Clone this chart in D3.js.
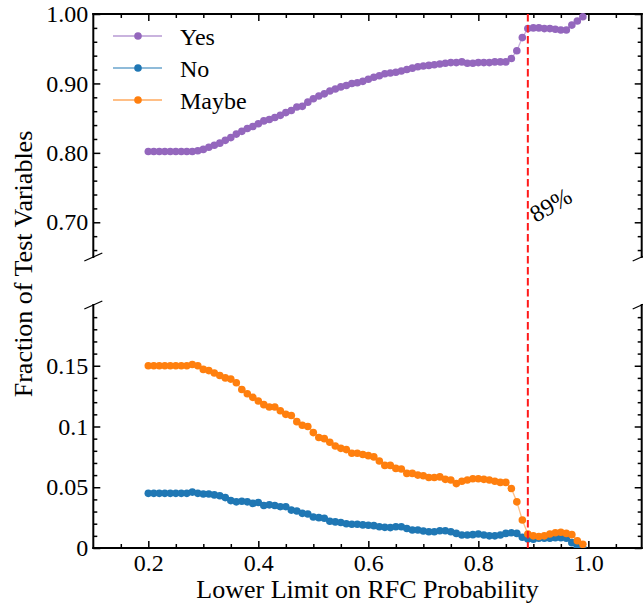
<!DOCTYPE html>
<html>
<head>
<meta charset="utf-8">
<script src="https://cdn.jsdelivr.net/npm/d3@7"></script>
<style>
  body { margin: 0; background: #fff; }
</style>
</head>
<body>
<div id="chart"></div>
<script>
// lower limit on RFC probability (x)
var thresholds = [0.20,0.21,0.22,0.23,0.24,0.25,0.26,0.27,0.28,0.29,
                  0.30,0.31,0.32,0.33,0.34,0.35,0.36,0.37,0.38,0.39,
                  0.40,0.41,0.42,0.43,0.44,0.45,0.46,0.47,0.48,0.49,
                  0.50,0.51,0.52,0.53,0.54,0.55,0.56,0.57,0.58,0.59,
                  0.60,0.61,0.62,0.63,0.64,0.65,0.66,0.67,0.68,0.69,
                  0.70,0.71,0.72,0.73,0.74,0.75,0.76,0.77,0.78,0.79,
                  0.80,0.81,0.82,0.83,0.84,0.85,0.86,0.87,0.88,0.89,
                  0.90,0.91,0.92,0.93,0.94,0.95,0.96,0.97,0.98,0.99];
var yesFraction = [0.802,0.802,0.802,0.802,0.802,0.802,0.802,0.802,0.802,0.803,
                   0.805,0.808,0.811,0.814,0.818,0.822,0.827,0.831,0.835,0.838,
                   0.842,0.846,0.848,0.851,0.854,0.858,0.861,0.866,0.867,0.873,
                   0.878,0.882,0.885,0.889,0.892,0.895,0.897,0.900,0.901,0.903,
                   0.906,0.909,0.911,0.914,0.915,0.916,0.918,0.920,0.922,0.924,
                   0.925,0.926,0.927,0.928,0.929,0.930,0.930,0.931,0.929,0.929,
                   0.930,0.930,0.930,0.931,0.931,0.931,0.936,0.947,0.966,0.979,
                   0.980,0.980,0.979,0.979,0.978,0.977,0.977,0.984,0.990,0.996];
var noFraction = [0.045,0.045,0.045,0.045,0.045,0.045,0.045,0.045,0.046,0.045,
                  0.0445,0.0445,0.0437,0.043,0.0415,0.039,0.038,0.0385,0.038,0.0367,
                  0.0375,0.035,0.0355,0.035,0.034,0.034,0.0312,0.0305,0.0285,0.028,
                  0.0255,0.025,0.0245,0.022,0.0215,0.021,0.020,0.0195,0.0195,0.019,
                  0.0187,0.0184,0.0175,0.017,0.0168,0.0175,0.0175,0.016,0.0148,0.0148,
                  0.014,0.0134,0.0134,0.0142,0.0142,0.0134,0.012,0.0107,0.0107,0.011,
                  0.0115,0.0107,0.010,0.010,0.0107,0.012,0.0125,0.012,0.0088,0.0075,
                  0.0072,0.008,0.008,0.008,0.0085,0.0085,0.008,0.0044,0.001,0.000];
var maybeFraction = [0.150,0.150,0.150,0.150,0.150,0.150,0.150,0.150,0.151,0.150,
                     0.147,0.146,0.144,0.142,0.140,0.139,0.136,0.1305,0.127,0.124,
                     0.121,0.118,0.116,0.116,0.113,0.110,0.109,0.104,0.101,0.100,
                     0.095,0.091,0.090,0.087,0.084,0.082,0.081,0.078,0.078,0.077,
                     0.076,0.075,0.0716,0.068,0.068,0.0655,0.065,0.0614,0.0614,0.060,
                     0.0595,0.058,0.058,0.0585,0.0565,0.056,0.053,0.055,0.056,0.057,
                     0.057,0.0565,0.056,0.055,0.054,0.054,0.049,0.038,0.023,0.0115,
                     0.010,0.0095,0.010,0.0115,0.0125,0.013,0.012,0.011,0.006,0.003];
var seriesNames = ["Yes", "No", "Maybe"];
var seriesColors = ["#9467bd", "#1f77b4", "#ff7f0e"];
var xTicks = [0.2, 0.4, 0.6, 0.8, 1.0];
var xTickLabels = ["0.2", "0.4", "0.6", "0.8", "1.0"];
var topTicks = [0.70, 0.80, 0.90, 1.00];
var topTickLabels = ["0.70", "0.80", "0.90", "1.00"];
var bottomTicks = [0, 0.05, 0.1, 0.15];
var bottomTickLabels = ["0", "0.05", "0.1", "0.15"];
var cutoff = 0.89;
var cutoffLabel = "89%";

var serif = "'Liberation Serif', 'Times New Roman', Times, Tinos, 'Nimbus Roman', " +
            "FreeSerif, 'Noto Serif', 'DejaVu Serif', serif";
var width = 643,
    height = 604;
var plotLeft = 93.3,
    plotRight = 641.7;
var topPanel = {top: 14, bottom: 257};
var bottomPanel = {top: 305, bottom: 548};

var svg = d3.select("#chart").append("svg")
          .attr("width", width)
          .attr("height", height)
          .attr("font-family", serif);

var xScale = d3.scaleLinear()
        .domain([0.1, 1.097])
        .range([plotLeft, plotRight]);
var yTop = d3.scaleLinear()
        .domain([0.65, 1.0])
        .range([topPanel.bottom, topPanel.top]);
var yBottom = d3.scaleLinear()
        .domain([0, 0.2])
        .range([bottomPanel.bottom, bottomPanel.top]);

// minor tick positions, skipping the majors
var notMajor = function(list) {
    return function(v) {
        return !list.some(function(m) { return Math.abs(m - v) < 1e-6; });
    };
};
var xMinor = d3.range(0.15, 1.09, 0.05).filter(notMajor(xTicks));
var topMinor = d3.range(0.66, 0.995, 0.02).filter(notMajor(topTicks));
var bottomMinor = d3.range(0.01, 0.195, 0.01).filter(notMajor(bottomTicks));

var defs = svg.append("defs");
defs.append("clipPath").attr("id", "clipTop")
    .append("rect")
    .attr("x", plotLeft).attr("y", topPanel.top - 6)
    .attr("width", plotRight - plotLeft)
    .attr("height", topPanel.bottom - topPanel.top + 6);
defs.append("clipPath").attr("id", "clipBottom")
    .append("rect")
    .attr("x", plotLeft).attr("y", bottomPanel.top)
    .attr("width", plotRight - plotLeft)
    .attr("height", bottomPanel.bottom - bottomPanel.top);

function styleAxis(g) {
    g.attr("font-family", serif).attr("font-size", 24);
    g.select(".domain").remove();
    g.selectAll(".tick line").attr("stroke", "#000").attr("stroke-width", 1.5);
    g.selectAll(".tick text").attr("font-family", serif).attr("font-size", 24).attr("fill", "#000");
}

function drawPanel(yScale, panel, majors, majorLabels, minors, isBottom) {
    var g = svg.append("g");
    // left axis
    g.append("g")
        .attr("transform", "translate(" + plotLeft + ",0)")
        .call(d3.axisLeft(yScale).tickValues(majors)
            .tickFormat(function(d, i) { return majorLabels[i]; })
            .tickSize(-7).tickPadding(5))
        .call(styleAxis);
    g.append("g")
        .attr("transform", "translate(" + plotLeft + ",0)")
        .call(d3.axisLeft(yScale).tickValues(minors).tickFormat("").tickSize(-4))
        .call(styleAxis);
    // right axis
    g.append("g")
        .attr("transform", "translate(" + plotRight + ",0)")
        .call(d3.axisRight(yScale).tickValues(majors).tickFormat("").tickSize(-7))
        .call(styleAxis);
    g.append("g")
        .attr("transform", "translate(" + plotRight + ",0)")
        .call(d3.axisRight(yScale).tickValues(minors).tickFormat("").tickSize(-4))
        .call(styleAxis);
    // horizontal axis: top edge of upper panel, bottom edge of lower panel
    var edgeY = isBottom ? panel.bottom : panel.top;
    var makeAxis = isBottom ? d3.axisBottom : d3.axisTop;
    g.append("g")
        .attr("transform", "translate(0," + edgeY + ")")
        .call(makeAxis(xScale).tickValues(xTicks)
            .tickFormat(function(d, i) { return isBottom ? xTickLabels[i] : ""; })
            .tickSize(-7).tickPadding(6))
        .call(styleAxis);
    g.append("g")
        .attr("transform", "translate(0," + edgeY + ")")
        .call(makeAxis(xScale).tickValues(xMinor).tickFormat("").tickSize(-4))
        .call(styleAxis);
    // spines
    var spines = [
        [plotLeft, panel.top, plotLeft, panel.bottom],
        [plotRight, panel.top, plotRight, panel.bottom],
        [plotLeft, edgeY, plotRight, edgeY]
    ];
    g.selectAll("line.spine")
        .data(spines)
        .enter()
        .append("line")
        .attr("class", "spine")
        .attr("x1", function(d) { return d[0]; })
        .attr("y1", function(d) { return d[1]; })
        .attr("x2", function(d) { return d[2]; })
        .attr("y2", function(d) { return d[3]; })
        .attr("stroke", "#000")
        .attr("stroke-width", 2)
        .attr("stroke-linecap", "square");
    // break marks on the broken side
    var breakY = isBottom ? panel.top : panel.bottom;
    [plotLeft, plotRight].forEach(function(bx) {
        g.append("line")
            .attr("x1", bx - 9).attr("y1", breakY + 4)
            .attr("x2", bx + 9).attr("y2", breakY - 4)
            .attr("stroke", "#000")
            .attr("stroke-width", 1.2);
    });
}

function drawSeries(values, color, yScale, clipId) {
    var pts = thresholds.map(function(x, i) { return {x: x, y: values[i]}; });
    var line = d3.line()
        .x(function(d) { return xScale(d.x); })
        .y(function(d) { return yScale(d.y); });
    var g = svg.append("g").attr("clip-path", "url(#" + clipId + ")");
    g.append("path")
        .datum(pts)
        .attr("d", line)
        .attr("fill", "none")
        .attr("stroke", color)
        .attr("stroke-opacity", 0.5)
        .attr("stroke-width", 1.3);
    g.selectAll("circle")
        .data(pts)
        .enter()
        .append("circle")
        .attr("cx", function(d) { return xScale(d.x); })
        .attr("cy", function(d) { return yScale(d.y); })
        .attr("r", 3.8)
        .attr("fill", color);
}

drawPanel(yTop, topPanel, topTicks, topTickLabels, topMinor, false);
drawPanel(yBottom, bottomPanel, bottomTicks, bottomTickLabels, bottomMinor, true);

drawSeries(yesFraction, seriesColors[0], yTop, "clipTop");
drawSeries(noFraction, seriesColors[1], yBottom, "clipBottom");
drawSeries(maybeFraction, seriesColors[2], yBottom, "clipBottom");

// cutoff line runs through both panels
svg.append("line")
    .attr("x1", xScale(cutoff)).attr("x2", xScale(cutoff))
    .attr("y1", topPanel.top).attr("y2", bottomPanel.bottom)
    .attr("stroke", "#ff1a1a")
    .attr("stroke-width", 2)
    .attr("stroke-dasharray", "7.5,3.5");
svg.append("text")
    .attr("transform", "translate(" + (xScale(cutoff) + 8) + ",223) rotate(-30)")
    .attr("font-family", serif)
    .attr("font-size", 24)
    .text(cutoffLabel);

// legend
var legend = svg.append("g");
var rows = legend.selectAll("g")
    .data(seriesNames)
    .enter()
    .append("g")
    .attr("transform", function(d, i) { return "translate(0," + (36 + i * 32) + ")"; });
rows.append("line")
    .attr("x1", 113).attr("x2", 162)
    .attr("stroke", function(d, i) { return seriesColors[i]; })
    .attr("stroke-opacity", 0.5)
    .attr("stroke-width", 2);
rows.append("circle")
    .attr("cx", 138)
    .attr("r", 3.8)
    .attr("fill", function(d, i) { return seriesColors[i]; });
rows.append("text")
    .attr("x", 180)
    .attr("y", 8.5)
    .attr("font-family", serif)
    .attr("font-size", 24)
    .text(function(d) { return d; });

// axis titles
svg.append("text")
    .attr("transform", "translate(23,264) rotate(-90)")
    .attr("text-anchor", "middle")
    .attr("dominant-baseline", "central")
    .attr("font-family", serif)
    .attr("font-size", 26)
    .text("Fraction of Test Variables");
svg.append("text")
    .attr("x", (plotLeft + plotRight) / 2)
    .attr("y", 598)
    .attr("text-anchor", "middle")
    .attr("font-family", serif)
    .attr("font-size", 26)
    .text("Lower Limit on RFC Probability");
</script>
</body>
</html>
